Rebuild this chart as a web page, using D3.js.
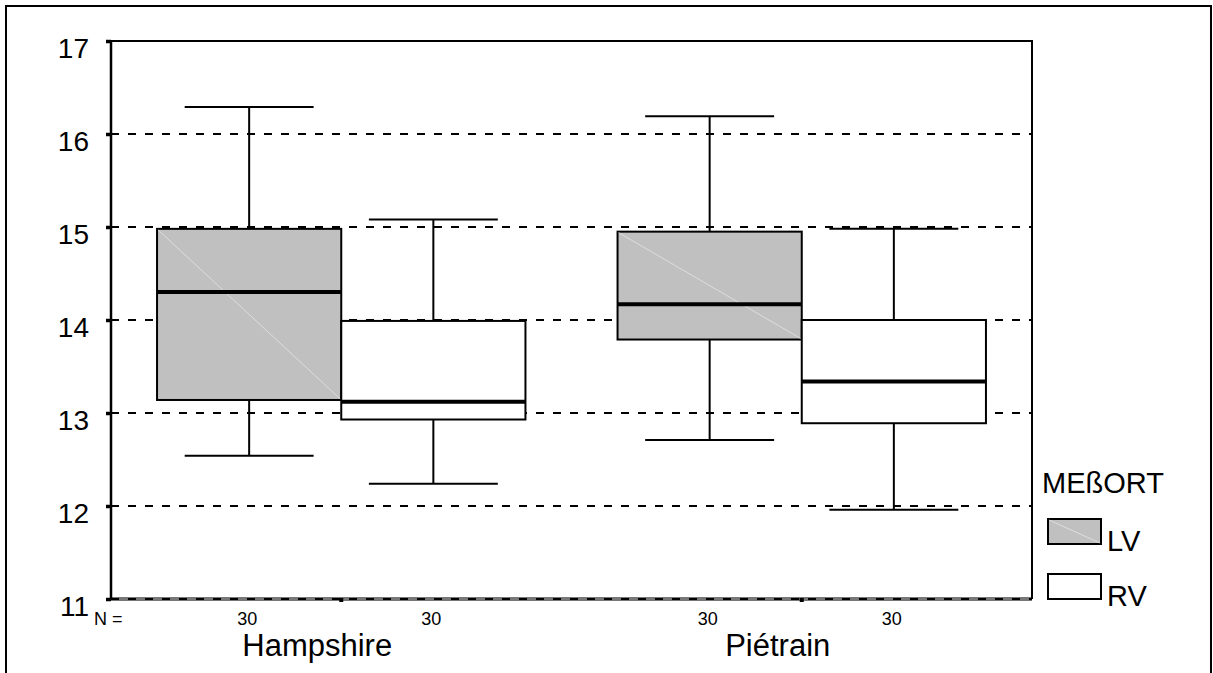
<!DOCTYPE html>
<html>
<head>
<meta charset="utf-8">
<script src="https://cdn.jsdelivr.net/npm/d3@7"></script>
<style>
  html, body { margin: 0; padding: 0; background: #fff; }
  svg { display: block; font-family: "Liberation Sans", Arial, sans-serif; }
</style>
</head>
<body>
<svg id="chart" width="1213" height="673"></svg>
<script>
// Breed categories and measuring locations
const categories = ["Hampshire", "Piétrain"];
const groups = ["LV", "RV"];
const groupFills = ["#c0c0c0", "#ffffff"];

// Sample sizes per breed and location
const countsLV = [30, 30];
const countsRV = [30, 30];

// Box plot statistics per breed (Hampshire, Piétrain)
const lvWhiskerLow  = [12.54, 12.71];
const lvQ1          = [13.14, 13.79];
const lvMedian      = [14.30, 14.17];
const lvQ3          = [14.98, 14.95];
const lvWhiskerHigh = [16.29, 16.19];

const rvWhiskerLow  = [12.24, 11.96];
const rvQ1          = [12.93, 12.89];
const rvMedian      = [13.12, 13.34];
const rvQ3          = [13.99, 14.00];
const rvWhiskerHigh = [15.08, 14.98];

const yTicks = [11, 12, 13, 14, 15, 16, 17];
const legendTitle = "MEßORT";

// Assemble records for drawing
const boxes = [];
categories.forEach((cat, i) => {
  boxes.push({ cat, group: "LV", n: countsLV[i], lo: lvWhiskerLow[i], q1: lvQ1[i], med: lvMedian[i], q3: lvQ3[i], hi: lvWhiskerHigh[i] });
  boxes.push({ cat, group: "RV", n: countsRV[i], lo: rvWhiskerLow[i], q1: rvQ1[i], med: rvMedian[i], q3: rvQ3[i], hi: rvWhiskerHigh[i] });
});

const svg = d3.select("#chart");
const plot = { left: 111, right: 1032, top: 41, bottom: 599 };

const y = d3.scaleLinear().domain([11, 17]).range([plot.bottom, plot.top]);
const x = d3.scaleBand().domain(categories).range([plot.left, plot.right]).padding(0);
const boxW = x.bandwidth() * 0.4;
const xg = d3.scaleBand().domain(groups).range([-boxW, boxW]);
const fill = d3.scaleOrdinal().domain(groups).range(groupFills);

// Outer page frame
svg.append("rect")
  .attr("x", 6).attr("y", 6)
  .attr("width", 1205).attr("height", 720)
  .attr("fill", "none").attr("stroke", "#000").attr("stroke-width", 2);

// Bottom base line (shaded)
svg.append("line")
  .attr("x1", plot.left).attr("x2", plot.right)
  .attr("y1", y(11)).attr("y2", y(11))
  .attr("stroke", "#777").attr("stroke-width", 4);

// Dashed horizontal grid lines
svg.append("g").selectAll("line")
  .data(yTicks)
  .join("line")
  .attr("x1", plot.left).attr("x2", plot.right)
  .attr("y1", d => y(d)).attr("y2", d => y(d))
  .attr("stroke", "#000").attr("stroke-width", 2)
  .attr("stroke-dasharray", "8,9");

// Top and right frame lines of the plot area
svg.append("path")
  .attr("d", `M${plot.left},${y(17)}H${plot.right}V${y(11)}`)
  .attr("fill", "none").attr("stroke", "#000").attr("stroke-width", 2);

// Y axis
const yAxis = d3.axisLeft(y).tickValues(yTicks).tickSize(5).tickPadding(17).tickFormat(d3.format("d"));
const yg = svg.append("g").attr("transform", `translate(${plot.left},0)`).call(yAxis);
yg.select(".domain").attr("stroke", "#000").attr("stroke-width", 2.5)
  .attr("d", `M0,${y(17)}V${y(11)}`);
yg.selectAll(".tick line").attr("stroke", "#000").attr("stroke-width", 3.5);
yg.selectAll(".tick text")
  .attr("font-family", "'Liberation Sans', Arial, sans-serif")
  .attr("font-size", 28).attr("fill", "#000").attr("dy", "0.58em");

// Category tick markers on the base line
svg.append("g").selectAll("rect")
  .data(categories)
  .join("rect")
  .attr("x", d => x(d) + x.bandwidth() / 2 - 2)
  .attr("y", y(11) - 1).attr("width", 4).attr("height", 4)
  .attr("fill", "#000");

// Boxes
const bx = d => x(d.cat) + x.bandwidth() / 2 + xg(d.group);
const bc = d => bx(d) + xg.bandwidth() / 2;
const capW = xg.bandwidth() * 0.7;

const bg = svg.append("g").selectAll("g").data(boxes).join("g");

// whiskers
bg.append("line")
  .attr("x1", bc).attr("x2", bc)
  .attr("y1", d => y(d.hi)).attr("y2", d => y(d.q3))
  .attr("stroke", "#000").attr("stroke-width", 2);
bg.append("line")
  .attr("x1", bc).attr("x2", bc)
  .attr("y1", d => y(d.q1)).attr("y2", d => y(d.lo))
  .attr("stroke", "#000").attr("stroke-width", 2);
bg.append("line")
  .attr("x1", d => bc(d) - capW / 2).attr("x2", d => bc(d) + capW / 2)
  .attr("y1", d => y(d.hi)).attr("y2", d => y(d.hi))
  .attr("stroke", "#000").attr("stroke-width", 2);
bg.append("line")
  .attr("x1", d => bc(d) - capW / 2).attr("x2", d => bc(d) + capW / 2)
  .attr("y1", d => y(d.lo)).attr("y2", d => y(d.lo))
  .attr("stroke", "#000").attr("stroke-width", 2);

// box body
bg.append("rect")
  .attr("x", bx).attr("width", xg.bandwidth())
  .attr("y", d => y(d.q3)).attr("height", d => y(d.q1) - y(d.q3))
  .attr("fill", d => fill(d.group))
  .attr("stroke", "#000").attr("stroke-width", 2);

// faint fill seam across shaded boxes
bg.filter(d => d.group === "LV").append("line")
  .attr("x1", d => bx(d) + 1).attr("y1", d => y(d.q3) + 1)
  .attr("x2", d => bx(d) + xg.bandwidth() - 1).attr("y2", d => y(d.q1) - 1)
  .attr("stroke", "#e4e4e4").attr("stroke-width", 0.8);

// median
bg.append("line")
  .attr("x1", bx).attr("x2", d => bx(d) + xg.bandwidth())
  .attr("y1", d => y(d.med)).attr("y2", d => y(d.med))
  .attr("stroke", "#000").attr("stroke-width", 4);

// Counts below the axis
svg.append("text")
  .attr("x", 94).attr("y", 625)
  .attr("font-size", 18).text("N =");
svg.append("g").selectAll("text")
  .data(boxes)
  .join("text")
  .attr("x", d => bc(d) - 2).attr("y", 625)
  .attr("text-anchor", "middle").attr("font-size", 18)
  .text(d => d.n);

// Category labels
svg.append("g").selectAll("text")
  .data(categories)
  .join("text")
  .attr("x", d => x(d) + x.bandwidth() / 2 - 24)
  .attr("y", 656)
  .attr("text-anchor", "middle").attr("font-size", 31)
  .text(d => d);

// Legend
const lg = svg.append("g").attr("transform", "translate(1042,493)");
lg.append("text").attr("x", 0).attr("y", 0).attr("font-size", 29).text(legendTitle);
const li = lg.selectAll("g.item").data(groups).join("g")
  .attr("class", "item")
  .attr("transform", (d, i) => `translate(0,${26 + i * 55})`);
li.append("rect")
  .attr("x", 6).attr("y", 0).attr("width", 53).attr("height", 25)
  .attr("fill", d => fill(d)).attr("stroke", "#000").attr("stroke-width", 2);
li.filter(d => d === "LV").append("line")
  .attr("x1", 7).attr("y1", 1).attr("x2", 58).attr("y2", 24)
  .attr("stroke", "#e4e4e4").attr("stroke-width", 0.8);
li.append("text")
  .attr("x", 65).attr("y", 32).attr("font-size", 29)
  .text(d => d);
</script>
</body>
</html>
